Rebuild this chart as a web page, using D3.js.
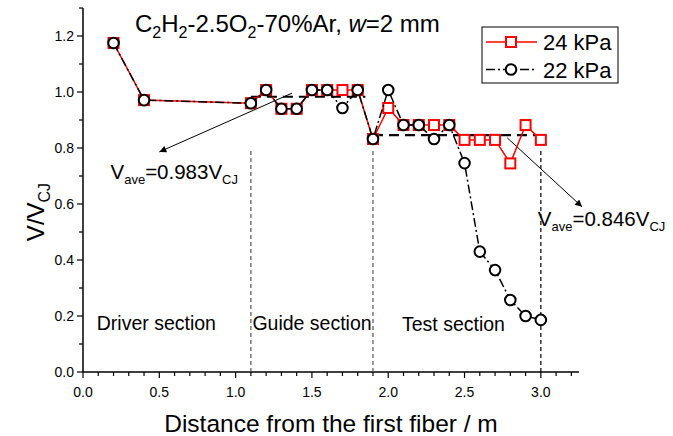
<!DOCTYPE html>
<html>
<head>
<meta charset="utf-8">
<script src="https://cdn.jsdelivr.net/npm/d3@7"></script>
<style>
  body { margin: 0; background: #fff; }
  text { font-family: "Liberation Sans", Arial, sans-serif; }
</style>
</head>
<body>
<div id="chart"></div>
<script>
// distances along the tube (m)
const distances = [0.2, 0.4, 1.1, 1.2, 1.3, 1.4, 1.5, 1.6, 1.7, 1.8, 1.9, 2.0, 2.1, 2.2, 2.3, 2.4, 2.5, 2.6, 2.7, 2.8, 2.9, 3.0]
const v24 = [1.175, 0.971, 0.96, 1.007, 0.94, 0.94, 1.007, 1.007, 1.007, 1.007, 0.832, 0.943, 0.882, 0.882, 0.882, 0.882, 0.829, 0.829, 0.829, 0.745, 0.882, 0.829]
const v22 = [1.175, 0.971, 0.96, 1.007, 0.94, 0.94, 1.007, 1.007, 0.943, 1.007, 0.832, 1.007, 0.882, 0.882, 0.832, 0.882, 0.746, 0.43, 0.364, 0.257, 0.2, 0.186]
const seriesNames = ["24 kPa", "22 kPa"]

// average velocity segments
const averages = [
  {x0: 1.1, x1: 1.85, v: 0.983},
  {x0: 1.9, x1: 3.0, v: 0.846}
]
const sectionBounds = [1.1, 1.9, 3.0]
const sectionLabels = [
  {name: "Driver section", x: 0.09, y: 0.15},
  {name: "Guide section", x: 1.11, y: 0.15},
  {name: "Test section", x: 2.09, y: 0.145}
]
const xTicks = [0, 0.5, 1.0, 1.5, 2.0, 2.5, 3.0]
const yTicks = [0, 0.2, 0.4, 0.6, 0.8, 1.0, 1.2]

const W = 673, H = 436
const svg = d3.select("#chart").append("svg")
  .attr("width", W)
  .attr("height", H)

const x = d3.scaleLinear().domain([0, 3.25]).range([83, 579])
const y = d3.scaleLinear().domain([0, 1.3]).range([372, 8])

svg.append("defs").append("marker")
  .attr("id", "arrow")
  .attr("viewBox", "0 0 10 10")
  .attr("refX", 10).attr("refY", 5)
  .attr("markerWidth", 12).attr("markerHeight", 7)
  .attr("markerUnits", "userSpaceOnUse")
  .attr("orient", "auto")
  .append("path").attr("d", "M0,0 L10,5 L0,10 Z").attr("fill", "#000")

// axes
const xMinor = d3.range(0, 33).map(i => i / 10)
const yMinor = d3.range(0, 14).map(i => i / 10)

const gx = svg.append("g").attr("transform", `translate(0,${y(0)})`)
gx.append("line").attr("x1", x(0)).attr("x2", x(3.25)).attr("stroke", "#000").attr("stroke-width", 1.5)
gx.selectAll(".minor").data(xMinor).enter().append("line")
  .attr("x1", d => x(d)).attr("x2", d => x(d))
  .attr("y1", 0).attr("y2", d => xTicks.some(t => Math.abs(t - d) < 1e-6) ? 6 : 4)
  .attr("stroke", "#000").attr("stroke-width", 1.2)
gx.selectAll(".lab").data(xTicks).enter().append("text")
  .attr("x", d => x(d)).attr("y", 25)
  .attr("text-anchor", "middle").attr("font-size", 14)
  .text(d => d.toFixed(1))

const gy = svg.append("g").attr("transform", `translate(${x(0)},0)`)
gy.append("line").attr("y1", y(0)).attr("y2", y(1.3)).attr("stroke", "#000").attr("stroke-width", 1.5)
gy.selectAll(".minor").data(yMinor).enter().append("line")
  .attr("y1", d => y(d)).attr("y2", d => y(d))
  .attr("x1", 0).attr("x2", d => yTicks.some(t => Math.abs(t - d) < 1e-6) ? -6 : -4)
  .attr("stroke", "#000").attr("stroke-width", 1.2)
gy.selectAll(".lab").data(yTicks).enter().append("text")
  .attr("x", -9).attr("y", d => y(d) + 5)
  .attr("text-anchor", "end").attr("font-size", 14)
  .text(d => d.toFixed(1))

// axis titles
svg.append("text")
  .attr("x", 331).attr("y", 432)
  .attr("text-anchor", "middle").attr("font-size", 24.5)
  .text("Distance from the first fiber / m")

const yl = svg.append("text")
  .attr("transform", "translate(44,212) rotate(-90)")
  .attr("text-anchor", "middle").attr("font-size", 24)
yl.append("tspan").text("V/V")
yl.append("tspan").attr("dy", 6).attr("font-size", 16).text("CJ")

// section boundaries
svg.selectAll(".bound").data(sectionBounds).enter().append("line")
  .attr("x1", d => x(d)).attr("x2", d => x(d))
  .attr("y1", y(0)).attr("y2", y(0.79))
  .attr("stroke", (d, i) => i < 2 ? "#555" : "#000")
  .attr("stroke-width", 1.2)
  .attr("stroke-dasharray", "4,3")

svg.selectAll(".sec").data(sectionLabels).enter().append("text")
  .attr("x", d => x(d.x)).attr("y", d => y(d.y))
  .attr("font-size", 19.5)
  .text(d => d.name)

// average lines
svg.selectAll(".avg").data(averages).enter().append("line")
  .attr("x1", d => x(d.x0)).attr("x2", d => x(d.x1))
  .attr("y1", d => y(d.v)).attr("y2", d => y(d.v))
  .attr("stroke", "#000").attr("stroke-width", 2.2)
  .attr("stroke-dasharray", "10,6")

// annotation arrows
const arrows = [
  {from: [1.37, 0.996], to: [0.5, 0.786]},
  {from: [2.78, 0.836], to: [3.27, 0.59]}
]
svg.selectAll(".arr").data(arrows).enter().append("line")
  .attr("x1", d => x(d.from[0])).attr("y1", d => y(d.from[1]))
  .attr("x2", d => x(d.to[0])).attr("y2", d => y(d.to[1]))
  .attr("stroke", "#000").attr("stroke-width", 1)
  .attr("marker-end", "url(#arrow)")

function vave(px, py, val) {
  const t = svg.append("text").attr("x", px).attr("y", py).attr("font-size", 20.5)
  t.append("tspan").text("V")
  t.append("tspan").attr("dy", 5).attr("font-size", 13).text("ave")
  t.append("tspan").attr("dy", -5).text("=" + val + "V")
  t.append("tspan").attr("dy", 5).attr("font-size", 13).text("CJ")
}
vave(x(0.18), y(0.69), "0.983")
vave(x(2.98), y(0.52), "0.846")

// series
const d24 = distances.map((d, i) => [d, v24[i]])
const d22 = distances.map((d, i) => [d, v22[i]])
const line = d3.line().x(d => x(d[0])).y(d => y(d[1]))

svg.append("path").datum(d24)
  .attr("d", line).attr("fill", "none")
  .attr("stroke", "#f00").attr("stroke-width", 1.5)
svg.selectAll(".sq").data(d24).enter().append("rect")
  .attr("x", d => x(d[0]) - 5).attr("y", d => y(d[1]) - 5)
  .attr("width", 10).attr("height", 10)
  .attr("fill", "#fff").attr("stroke", "#f00").attr("stroke-width", 2)

svg.append("path").datum(d22)
  .attr("d", line).attr("fill", "none")
  .attr("stroke", "#000").attr("stroke-width", 1.5)
  .attr("stroke-dasharray", "9,3,2,3")
svg.selectAll(".ci").data(d22).enter().append("circle")
  .attr("cx", d => x(d[0])).attr("cy", d => y(d[1])).attr("r", 5.3)
  .attr("fill", "#fff").attr("stroke", "#000").attr("stroke-width", 2)

// title
const title = svg.append("text").attr("x", 135).attr("y", 32).attr("font-size", 24)
const parts = [["C"], ["2", true], ["H"], ["2", true], ["-2.5O"], ["2", true], ["-70%Ar, "], ["w", false, true], ["=2 mm"]]
let sub = false
parts.forEach(p => {
  const ts = title.append("tspan").text(p[0])
  if (p[1]) { ts.attr("dy", 6).attr("font-size", 16); sub = true }
  else if (sub) { ts.attr("dy", -6); sub = false }
  if (p[2]) ts.attr("font-style", "italic")
})

// legend
const lg = svg.append("g")
lg.append("rect").attr("x", 482).attr("y", 27).attr("width", 136).attr("height", 56)
  .attr("fill", "#fff").attr("stroke", "#000").attr("stroke-width", 1)
seriesNames.forEach((name, i) => {
  const cy = 42 + i * 27.5
  lg.append("line").attr("x1", 486).attr("x2", 537).attr("y1", cy).attr("y2", cy)
    .attr("stroke", i === 0 ? "#f00" : "#000").attr("stroke-width", 1.5)
    .attr("stroke-dasharray", i === 0 ? null : "9,3,2,3")
  if (i === 0) {
    lg.append("rect").attr("x", 506).attr("y", cy - 5).attr("width", 10).attr("height", 10)
      .attr("fill", "#fff").attr("stroke", "#f00").attr("stroke-width", 2)
  } else {
    lg.append("circle").attr("cx", 511).attr("cy", cy).attr("r", 5.3)
      .attr("fill", "#fff").attr("stroke", "#000").attr("stroke-width", 2)
  }
  lg.append("text").attr("x", 543).attr("y", cy + 8).attr("font-size", 22).text(name)
})
</script>
</body>
</html>
